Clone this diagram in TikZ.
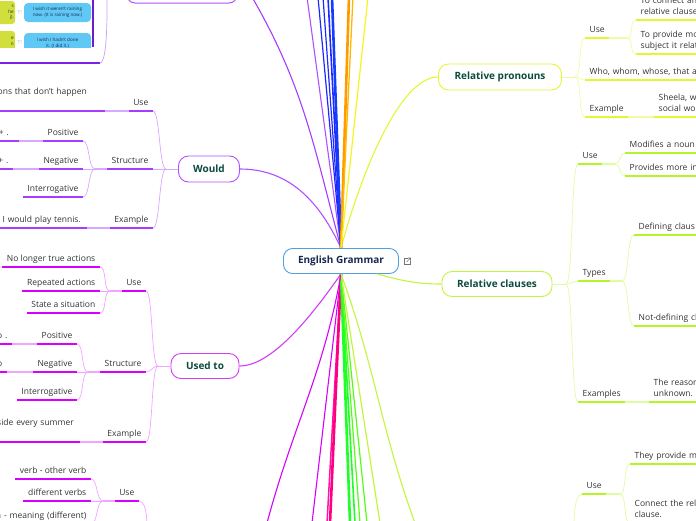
\documentclass[tikz,border=0pt]{standalone}
\usepackage{fontspec}
\setmainfont{Open Sans}
\newfontfamily\simbolos{DejaVu Sans}
\definecolor{azulT}{RGB}{80,160,225}
\definecolor{tinta}{RGB}{25,40,80}
\definecolor{verdeT}{RGB}{10,75,60}
\definecolor{violeta}{RGB}{165,60,255}
\definecolor{violetaC}{RGB}{212,170,255}
\definecolor{violetaB}{RGB}{175,80,255}
\definecolor{fucsia}{RGB}{215,0,255}
\definecolor{fucsiaC}{RGB}{240,165,255}
\definecolor{fucsiaB}{RGB}{210,60,245}
\definecolor{amarillo}{RGB}{228,246,50}
\definecolor{amarilloC}{RGB}{242,250,165}
\definecolor{amarilloF}{RGB}{245,245,30}
\definecolor{lima}{RGB}{180,245,40}
\definecolor{limaC}{RGB}{222,252,160}
\definecolor{limaB}{RGB}{195,245,60}
\definecolor{morado}{RGB}{125,35,230}
\definecolor{moradoC}{RGB}{200,160,250}
\definecolor{moradoO}{RGB}{105,30,210}
\definecolor{azul}{RGB}{30,40,255}
\definecolor{azulF}{RGB}{20,60,255}
\definecolor{naranja}{RGB}{255,155,0}
\definecolor{naranjaC}{RGB}{255,185,0}
\definecolor{rosa}{RGB}{255,20,170}
\definecolor{rosaF}{RGB}{255,0,130}
\definecolor{verde}{RGB}{30,255,40}
\definecolor{verdeC}{RGB}{80,255,20}
\definecolor{celeste}{RGB}{95,200,245}
\definecolor{oliva}{RGB}{210,222,60}
\tikzset{
  tema/.style={rectangle, rounded corners=9pt, draw=azulT, fill=white, line width=0.9pt,
    minimum width=115pt, minimum height=25pt, font=\fontsize{10}{12}\selectfont\bfseries, text=tinta},
  rama/.style={rectangle, rounded corners=10pt, draw=#1, fill=white, line width=0.9pt,
    minimum height=25pt, font=\fontsize{10}{12}\selectfont\bfseries, text=verdeT},
  rotulo/.style={inner xsep=4.5pt, inner ysep=3pt, text depth=2pt,
    font=\fontsize{8.5}{11}\selectfont, text=black!80,
    append after command={(\tikzlastnode.south west) edge[draw=#1, line width=1.8pt] (\tikzlastnode.south east)}},
  varias/.style={text depth={}},
  izq/.style={anchor=south east},
  der/.style={anchor=south west},
  cortei/.style={izq, align=right, text width=#1},
  corted/.style={der, align=left, text width=160pt},
  puente/.style={draw=#1, line width=1.8pt},
  rizo/.style={draw=#1, line width=0.7pt},
  tronco/.style={draw=#1, line width=1.1pt},
  ram/.style={out=180, in=0, max distance=7pt},
  ramd/.style={out=0, in=180, max distance=7pt},
  mini/.style={font=\fontsize{4.6}{5.6}\selectfont, text=tinta, align=center, inner sep=0pt}
}

\begin{document}
\begin{tikzpicture}[x=1pt, y=-1pt]
  \useasboundingbox (0,0) rectangle (696,520);

  % temas
  \node[tema] (tema) at (341,261) {English Grammar};
  \node[rama=violetaB, minimum width=61pt, minimum height=26pt] (would) at (209,169) {Would};
  \node[rama=fucsiaB, minimum width=68pt] (usedto) at (205,366) {Used to};
  \node[rama=amarillo, minimum width=123pt, minimum height=26pt] (relpron) at (500,77) {Relative pronouns};
  \node[rama=limaB, minimum width=110pt] (relcla) at (497,284) {Relative clauses};

  % Would
  \coordinate (wN) at (166,169);
  \node[rotulo=violeta, izq] (wUso) at (153,111) {Use};
  \node[rotulo=violeta, cortei=120pt, varias] (wUsoH) at (105,111) {ons that don't happen\kern13.5pt\\\rule[-2pt]{0pt}{0pt}};
  \node[rotulo=violeta, izq] (wEstr) at (153,169) {Structure};
  \coordinate (wEn) at (95,169);
  \node[rotulo=violeta, izq] (wPos) at (83,141) {Positive};
  \node[rotulo=violeta, cortei=40pt] (wPosH) at (19,141) {e + .\kern5.5pt};
  \node[rotulo=violeta, izq] (wNeg) at (83,169) {Negative};
  \node[rotulo=violeta, cortei=40pt] (wNegH) at (13,169) {+ .};
  \node[rotulo=violeta, izq] (wInt) at (83,197) {Interrogative};
  \node[rotulo=violeta, izq] (wEj) at (153,228) {Example};
  \node[rotulo=violeta, cortei=100pt] (wEjH) at (87,228) {g I would play tennis.\kern1.5pt};
  \draw[rizo=violetaC] (would.west) -- (wN);
  \draw[rizo=violetaC] (wN) to[ram] (wUso.south east);
  \draw[rizo=violetaC] (wN) -- (wEstr.south east);
  \draw[rizo=violetaC] (wN) to[ram] (wEj.south east);
  \draw[puente=violetaC] (wUsoH.south east) -- (wUso.south west);
  \draw[puente=violetaC] (wEstr.south west) -- (wEn);
  \draw[rizo=violetaC] (wEn) to[ram] (wPos.south east);
  \draw[rizo=violetaC] (wEn) -- (wNeg.south east);
  \draw[rizo=violetaC] (wEn) to[ram] (wInt.south east);
  \draw[puente=violetaC] (wPosH.south east) -- (wPos.south west);
  \draw[puente=violetaC] (wNegH.south east) -- (wNeg.south west);
  \draw[puente=violetaC] (wEjH.south east) -- (wEj.south west);

  % Used to
  \coordinate (uN) at (158,366);
  \node[rotulo=fucsia, izq] (uUso) at (146,291) {Use};
  \coordinate (uUn) at (110,291);
  \node[rotulo=fucsia, izq] (uUsoA) at (100,267) {No longer true actions};
  \node[rotulo=fucsia, izq] (uUsoB) at (100,291) {Repeated actions};
  \node[rotulo=fucsia, izq] (uUsoC) at (100,313) {State a situation};
  \node[rotulo=fucsia, izq] (uEstr) at (146,372) {Structure};
  \coordinate (uEn) at (88,372);
  \node[rotulo=fucsia, izq] (uPos) at (77,344) {Positive};
  \node[rotulo=fucsia, cortei=40pt] (uPosH) at (12,344) {o .};
  \node[rotulo=fucsia, izq] (uNeg) at (77,372) {Negative};
  \node[rotulo=fucsia, cortei=40pt] (uNegH) at (7,372) {o};
  \node[rotulo=fucsia, izq] (uInt) at (77,400) {Interrogative};
  \node[rotulo=fucsia, izq] (uEj) at (146,442) {Example};
  \node[rotulo=fucsia, cortei=100pt, varias] (uEjH) at (80,442) {side every summer\kern1.5pt\\\rule[-2pt]{0pt}{0pt}};
  \draw[rizo=fucsiaC] (usedto.west) -- (uN);
  \draw[rizo=fucsiaC] (uN) to[ram] (uUso.south east);
  \draw[rizo=fucsiaC] (uN) to[ram] (uEstr.south east);
  \draw[rizo=fucsiaC] (uN) to[ram] (uEj.south east);
  \draw[puente=fucsiaC] (uUso.south west) -- (uUn);
  \draw[rizo=fucsiaC] (uUn) to[ram] (uUsoA.south east);
  \draw[rizo=fucsiaC] (uUn) -- (uUsoB.south east);
  \draw[rizo=fucsiaC] (uUn) to[ram] (uUsoC.south east);
  \draw[puente=fucsiaC] (uEstr.south west) -- (uEn);
  \draw[rizo=fucsiaC] (uEn) to[ram] (uPos.south east);
  \draw[rizo=fucsiaC] (uEn) -- (uNeg.south east);
  \draw[rizo=fucsiaC] (uEn) to[ram] (uInt.south east);
  \draw[puente=fucsiaC] (uPosH.south east) -- (uPos.south west);
  \draw[puente=fucsiaC] (uNegH.south east) -- (uNeg.south west);
  \draw[puente=fucsiaC] (uEjH.south east) -- (uEj.south west);

  % Use (abajo)
  \node[rotulo=fucsia, izq] (bUso) at (139,501) {Use};
  \coordinate (bUn) at (103,501);
  \coordinate (bPad) at (147,545);
  \node[rotulo=fucsia, izq] (bUsoA) at (91,479) {verb - other verb};
  \node[rotulo=fucsia, izq] (bUsoB) at (91,501) {different verbs};
  \node[rotulo=fucsia, cortei=100pt] (bUsoC) at (91,524) {n - meaning (different)};
  \draw[rizo=fucsiaC] (bUso.south east) to[out=0, in=90, max distance=10pt] (bPad);
  \draw[puente=fucsiaC] (bUso.south west) -- (bUn);
  \draw[rizo=fucsiaC] (bUn) to[ram] (bUsoA.south east);
  \draw[rizo=fucsiaC] (bUn) -- (bUsoB.south east);
  \draw[rizo=fucsiaC] (bUn) to[ram] (bUsoC.south east);

  % Relative pronouns
  \coordinate (pN) at (575,77);
  \node[rotulo=amarillo, der] (pUso) at (585,38) {Use};
  \coordinate (pUn) at (627,38);
  \node[rotulo=amarillo, corted, varias] (pUsoA) at (636,20) {To connect an\\relative clause\rule[-2pt]{0pt}{0pt}};
  \node[rotulo=amarillo, corted, varias] (pUsoB) at (636,54) {To provide mo\\subject it relat\rule[-2pt]{0pt}{0pt}};
  \node[rotulo=amarillo, corted] (pQuien) at (585,80) {Who, whom, whose, that a};
  \node[rotulo=amarillo, der] (pEj) at (585,117) {Example};
  \node[rotulo=amarillo, corted, varias] (pEjH) at (654,117) {Sheela, w\\social wor\rule[-2pt]{0pt}{0pt}};
  \draw[rizo=amarilloC] (relpron.east) -- (pN);
  \draw[rizo=amarilloC] (pN) to[ramd] (pUso.south west);
  \draw[rizo=amarilloC] (pN) to[ramd] (pQuien.south west);
  \draw[rizo=amarilloC] (pN) to[ramd] (pEj.south west);
  \draw[puente=amarilloC] (pUso.south east) -- (pUn);
  \draw[rizo=amarilloC] (pUn) to[ramd] (pUsoA.south west);
  \draw[rizo=amarilloC] (pUn) to[ramd] (pUsoB.south west);
  \draw[puente=amarilloC] (pEj.south east) -- (pEjH.south west);

  % Relative clauses
  \coordinate (cN) at (566,284);
  \node[rotulo=lima, der] (cUso) at (578,164) {Use};
  \coordinate (cUn) at (615,164);
  \node[rotulo=lima, corted] (cUsoA) at (625,153) {Modifies a noun};
  \node[rotulo=lima, corted] (cUsoB) at (625,176) {Provides more in};
  \node[rotulo=lima, der] (cTipo) at (578,281) {Types};
  \coordinate (cTn) at (622,281);
  \node[rotulo=lima, corted] (cDef) at (634,235) {Defining claus};
  \node[rotulo=lima, corted] (cNoDef) at (634,326) {Not-defining cl};
  \node[rotulo=lima, der] (cEjs) at (578,402) {Examples};
  \node[rotulo=lima, corted, varias] (cEjsH) at (649,402) {The reason\\unknown.\rule[-2pt]{0pt}{0pt}};
  \draw[rizo=limaC] (relcla.east) -- (cN);
  \draw[rizo=limaC] (cN) to[ramd] (cUso.south west);
  \draw[rizo=limaC] (cN) to[ramd] (cTipo.south west);
  \draw[rizo=limaC] (cN) to[ramd] (cEjs.south west);
  \draw[puente=limaC] (cUso.south east) -- (cUn);
  \draw[rizo=limaC] (cUn) to[ramd] (cUsoA.south west);
  \draw[rizo=limaC] (cUn) to[ramd] (cUsoB.south west);
  \draw[puente=limaC] (cTipo.south east) -- (cTn);
  \draw[rizo=limaC] (cTn) to[ramd] (cDef.south west);
  \draw[rizo=limaC] (cTn) to[ramd] (cNoDef.south west);
  \draw[puente=limaC] (cEjs.south east) -- (cEjsH.south west);

  % Use (abajo derecha)
  \node[rotulo=lima, der] (lUso) at (582,494) {Use};
  \coordinate (lUn) at (620,494);
  \coordinate (lPad) at (574,545);
  \node[rotulo=lima, corted] (lUsoA) at (630,464) {They provide m};
  \node[rotulo=lima, corted, varias] (lUsoB) at (630,523) {Connect the rel\\clause.\rule[-2pt]{0pt}{0pt}};
  \draw[rizo=limaC] (lPad) to[out=90, in=180, max distance=10pt] (lUso.south west);
  \draw[puente=limaC] (lUso.south east) -- (lUn);
  \draw[rizo=limaC] (lUn) to[ramd] (lUsoA.south west);
  \draw[rizo=limaC] (lUn) to[ramd] (lUsoB.south west);

  % ramas del tema
  \draw[tronco=violetaB] (tema.north) to[out=115, in=0] (would.east);
  \draw[tronco=amarillo] (tema.north) to[out=75, in=180, in looseness=0.5] (relpron.west);
  \draw[tronco=fucsiaB] (tema.south) to[out=235, in=0, in looseness=0.6] (usedto.east);
  \draw[tronco=limaB] ([xshift=36pt]tema.south) to[out=-15, in=180] (relcla.west);
  \coordinate (supMorado) at (252,-3);
  \draw[tronco=violeta] (tema.north) to[out=105, in=-60] (supMorado);
  \foreach \xa/\col/\an in {307/violetaB/1.1, 318/azul/1.2, 323/azul/1.2, 328/azul/1.6,
      332/azulF/2.6, 349/naranja/2.6, 353/naranjaC/1.3, 368/amarilloF/1.2}
    {\coordinate (sup\xa) at (\xa,-3);
     \draw[draw=\col, line width=\an pt] (tema.north) -- (sup\xa);}
  \foreach \xa/\col/\an in {312/fucsia/1.1, 327/rosa/1.5, 330/rosaF/2.6, 350/verde/2.6,
      355/verde/1.6, 360/verdeC/1.2, 367/verdeC/1.2, 380/limaB/1.2}
    {\coordinate (inf\xa) at (\xa,523);
     \draw[draw=\col, line width=\an pt] (tema.south) -- (inf\xa);}
  \coordinate (inf267) at (267,523);
  \draw[tronco=fucsia] (tema.south) to[out=260, in=75] (inf267);
  \coordinate (inf415) at (415,523);
  \draw[tronco=limaB] (tema.south) to[out=290, in=110] (inf415);

  % enlace externo
  \draw[black!55, line width=0.6pt] (407.5,258) -- (404,258) -- (404,264.5) -- (410.5,264.5) -- (410.5,261);
  \draw[black!55, line width=0.6pt] (406.5,262) -- (410.5,258) (408,258) -- (410.5,258) -- (410.5,260.5);

  % caja superior
  \draw[violetaB, line width=1pt, rounded corners=8pt] (127,-20) rectangle (237,3);

  % wish (arriba izquierda)
  \node[rotulo=morado, izq, minimum width=110pt, minimum height=60pt] (deseo) at (100,63) {};
  \coordinate (deseoPad) at (107,-3);
  \draw[rizo=moradoC] (deseo.south east) to[out=0, in=270, max distance=8pt] (deseoPad);
  \begin{scope}
    \clip (0,0) rectangle (93,47);
    \fill[oliva, rounded corners=3pt] (-20,1) rectangle (15,24);
    \fill[oliva, rounded corners=3pt] (-20,31) rectangle (15,70);
    \fill[celeste, rounded corners=4pt] (24,3) rectangle (91,22);
    \fill[celeste, rounded corners=4pt] (24,33) rectangle (91,70);
    \node[mini] (deseoA) at (57.5,12.5) {I wish it weren't raining\\now. (It is raining now.)};
    \node[mini] (deseoB) at (57.5,43) {I wish I hadn't done\\it. (I did it.)};
    \node[mini, anchor=east, align=right] (deseoC) at (14,12.5) {s\\he\\j).};
    \node[mini, anchor=east, align=right] (deseoD) at (14,41) {e\\n};
    \node[font=\simbolos\fontsize{7}{7}\selectfont, text=black!45, inner sep=0pt] (mano1) at (19.5,13) {☜};
    \node[font=\simbolos\fontsize{7}{7}\selectfont, text=black!45, inner sep=0pt] (mano2) at (19.5,43) {☜};
  \end{scope}
  \draw[moradoO, line width=2.4pt] (93,-3) -- (93,47);
\end{tikzpicture}
\end{document}
